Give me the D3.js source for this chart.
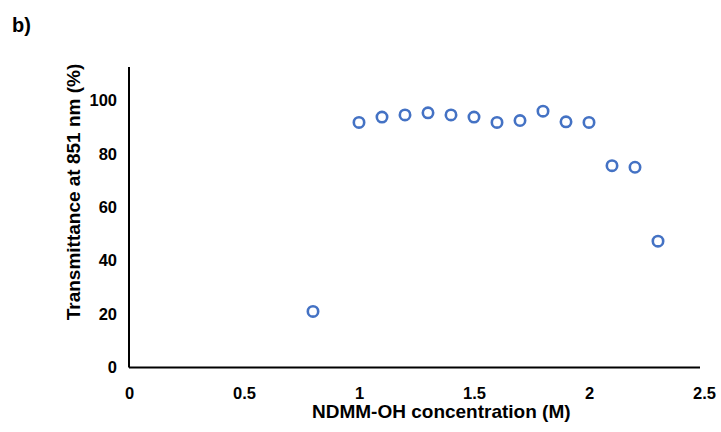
<!DOCTYPE html>
<html>
<head>
<meta charset="utf-8">
<script src="https://cdn.jsdelivr.net/npm/d3@7"></script>
<style>
  html, body { margin: 0; padding: 0; background: #fff; }
  svg { display: block; font-family: "Liberation Sans", Arial, sans-serif; }
</style>
</head>
<body>
<svg id="chart" width="721" height="432"></svg>
<script>
// NDMM-OH concentration (M) and transmittance at 851 nm (%)
const concentration = [0.8, 1.0, 1.1, 1.2, 1.3, 1.4, 1.5, 1.6, 1.7, 1.8, 1.9, 2.0, 2.1, 2.2, 2.3];
const transmittance = [21, 91.8, 93.8, 94.6, 95.4, 94.6, 93.8, 91.8, 92.5, 96, 92, 91.8, 75.6, 75, 47.3];
const xTicks = [0, 0.5, 1, 1.5, 2, 2.5];
const yTicks = [0, 20, 40, 60, 80, 100];

const svg = d3.select("#chart");
const FONT = "Liberation Sans, Arial, sans-serif";

const x = d3.scaleLinear().domain([0, 2.5]).range([129, 704]);
const y = d3.scaleLinear().domain([0, 100]).range([367.5, 100.5]);
const yTop = 67;

// panel label
svg.append("text").attr("x", 12).attr("y", 32)
  .attr("font-size", 20).attr("font-weight", "bold").text("b)");

// x axis
const xAxis = d3.axisBottom(x).tickValues(xTicks).tickSize(0).tickPadding(20)
  .tickFormat(d => String(d));
const gx = svg.append("g").attr("transform", `translate(0,${y(0)})`).call(xAxis);
gx.select(".domain").attr("d", `M${x(0)},0H${x(2.5) - 4}`)
  .attr("stroke", "#000").attr("stroke-width", 2);
gx.selectAll("text").attr("font-size", 16.5).attr("font-weight", "bold")
  .attr("font-family", FONT).attr("fill", "#000");

// y axis
const yAxis = d3.axisLeft(y).tickValues(yTicks).tickSize(0).tickPadding(12);
const gy = svg.append("g").attr("transform", `translate(${x(0)},0)`).call(yAxis);
gy.select(".domain").attr("d", `M0,${yTop}V${y(0)}`)
  .attr("stroke", "#000").attr("stroke-width", 2);
gy.selectAll("text").attr("font-size", 16.5).attr("font-weight", "bold")
  .attr("font-family", FONT).attr("fill", "#000");

// axis titles
svg.append("text")
  .attr("x", 312).attr("y", 418)
  .attr("text-anchor", "start").attr("font-size", 19).attr("font-weight", "bold")
  .text("NDMM-OH concentration (M)");
svg.append("text")
  .attr("transform", `translate(80,192) rotate(-90)`)
  .attr("text-anchor", "middle").attr("font-size", 19).attr("font-weight", "bold")
  .text("Transmittance at 851 nm (%)");

// markers
svg.append("g").selectAll("circle")
  .data(concentration.map((c, i) => [c, transmittance[i]]))
  .join("circle")
  .attr("cx", d => x(d[0])).attr("cy", d => y(d[1]))
  .attr("r", 5.2)
  .attr("fill", "none").attr("stroke", "#4472C4").attr("stroke-width", 2.6);
</script>
</body>
</html>
